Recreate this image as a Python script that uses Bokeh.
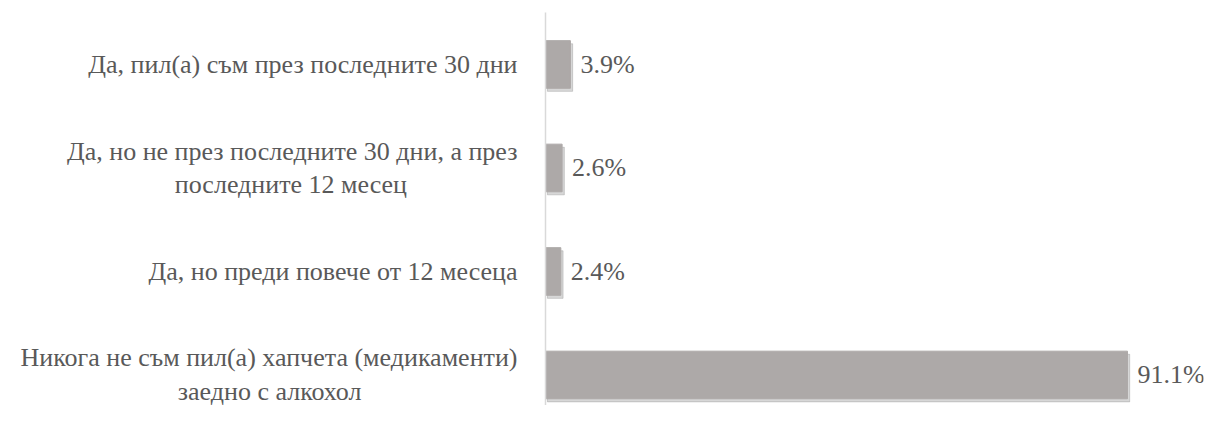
from bokeh.plotting import figure
from bokeh.models import ColumnDataSource, Range1d, FixedTicker, LabelSet
from bokeh.transform import dodge
from bokeh.embed import file_html
from bokeh.resources import INLINE

NB = "\u00a0"
categories = [
    "Да, пил(а) съм през последните 30 дни",
    "Да, но не през последните 30 дни, а през\n" + "последните 12 месец" + NB * 17,
    "Да, но преди повече от 12 месеца",
    "Никога не съм пил(а) хапчета (медикаменти)\n" + "заедно с алкохол" + NB * 24,
]
values = [3.9, 2.6, 2.4, 91.1]
value_labels = ["3.9%", "2.6%", "2.4%", "91.1%"]

FONT = "Liberation Serif"

n = len(categories)
ypos = [n - 1 - i for i in range(n)]

src = ColumnDataSource(dict(y=ypos, v=values, lab=value_labels))

p = figure(width=1205, height=405, output_backend="svg", toolbar_location=None,
           x_range=Range1d(0, 103), y_range=Range1d(-0.295, 3.502),
           min_border_left=545, min_border_right=2, min_border_top=12, min_border_bottom=0)
p.outline_line_color = None
p.grid.visible = False
p.xaxis.visible = False
p.background_fill_color = "white"
p.border_fill_color = "white"

# soft shadow
p.hbar(y=dodge("y", -0.03), right=dodge("v", 0.35), left=0.3, height=0.46,
       color="#7a7a7a", alpha=0.3, source=src)
p.hbar(y="y", right="v", left=0, height=0.46, color="#ada9a8", source=src)

labels = LabelSet(x="v", y="y", text="lab", source=src, x_offset=10,
                  text_baseline="middle", text_font=FONT,
                  text_font_size="26px", text_color="#595959")
p.add_layout(labels)

yaxis = p.yaxis[0]
yaxis.ticker = FixedTicker(ticks=ypos)
yaxis.major_label_overrides = {y: c for y, c in zip(ypos, categories)}
yaxis.major_label_text_font = FONT
yaxis.major_label_text_font_size = "26px"
yaxis.major_label_text_color = "#595959"
yaxis.major_label_text_line_height = 1.15
yaxis.major_label_standoff = 22
yaxis.major_tick_line_color = None
yaxis.minor_tick_line_color = None
yaxis.axis_line_color = "#d9d9d9"
yaxis.axis_line_width = 1.5

open("out.html", "w").write(file_html(p, INLINE))
